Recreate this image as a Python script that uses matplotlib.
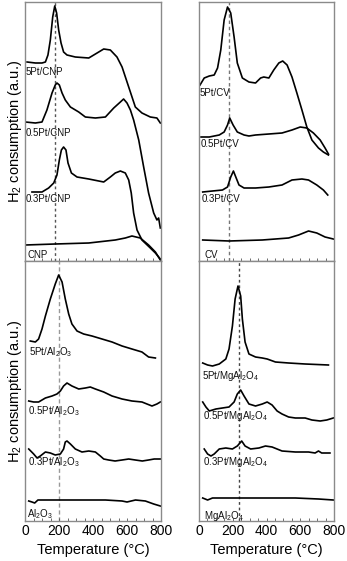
import matplotlib
matplotlib.use("Agg")
import matplotlib.pyplot as plt
from matplotlib.ticker import MultipleLocator

plt.rcParams["font.family"] = ["Liberation Sans", "DejaVu Sans"]
plt.rcParams["mathtext.fontset"] = "custom"
plt.rcParams["mathtext.rm"] = "Liberation Sans"
plt.rcParams["mathtext.it"] = "Liberation Sans:italic"

# %% data (temperature in °C, signal in a.u.)
# --- CNP panel ---
t_5pt_cnp = [12, 61, 100, 120, 135, 149, 163, 175, 186, 198, 212, 227, 247, 296, 375, 424, 463, 502, 541, 571, 610, 649, 688, 737, 776, 796]
s_5pt_cnp = [199, 198, 198, 199, 206, 221, 244, 255, 248, 231, 218, 209, 206, 204, 203, 208, 212, 211, 204, 194, 174, 154, 148, 144, 143, 138]
t_05pt_cnp = [2, 61, 100, 129, 159, 178, 188, 202, 218, 237, 267, 316, 355, 414, 473, 522, 561, 580, 600, 620, 639, 669, 698, 727, 757, 776, 786, 796]
s_05pt_cnp = [139, 138, 139, 151, 168, 176, 178, 176, 168, 161, 154, 149, 144, 143, 144, 153, 159, 162, 158, 151, 141, 121, 94, 68, 48, 41, 43, 33]
t_03pt_cnp = [41, 100, 139, 169, 188, 202, 214, 227, 241, 253, 273, 306, 375, 463, 502, 531, 561, 590, 610, 625, 639, 659, 688, 737, 767, 796]
s_03pt_cnp = [69, 69, 73, 78, 86, 101, 111, 114, 111, 98, 88, 84, 82, 79, 84, 88, 90, 88, 81, 68, 48, 31, 21, 13, 8, 2]
t_cnp = [2, 178, 375, 531, 590, 629, 678, 727, 767, 796]
s_cnp = [16, 17, 18, 21, 23, 25, 23, 16, 9, 1]

# --- CV panel ---
t_5pt_cv = [6, 31, 61, 90, 110, 129, 149, 169, 188, 208, 227, 257, 296, 335, 365, 384, 414, 443, 473, 496, 522, 551, 580, 610, 639, 669, 708, 737, 767]
s_5pt_cv = [176, 183, 185, 186, 193, 211, 241, 254, 248, 224, 198, 183, 179, 178, 183, 184, 183, 191, 198, 200, 196, 184, 168, 151, 134, 121, 113, 109, 106]
t_05pt_cv = [12, 61, 120, 149, 169, 182, 202, 227, 267, 296, 335, 414, 492, 551, 600, 639, 678, 718, 747, 767]
s_05pt_cv = [124, 124, 126, 129, 136, 143, 136, 129, 126, 125, 126, 127, 128, 131, 134, 133, 128, 121, 113, 107]
t_03pt_cv = [22, 80, 139, 169, 188, 204, 218, 237, 267, 335, 414, 492, 551, 610, 649, 698, 737, 763]
s_03pt_cv = [69, 70, 71, 74, 84, 90, 84, 76, 73, 73, 74, 76, 81, 82, 81, 76, 71, 66]
t_cv = [22, 178, 375, 531, 590, 649, 698, 747, 796]
s_cv = [21, 20, 21, 23, 26, 30, 28, 24, 22]

# --- Al2O3 panel ---
t_5pt_al = [31, 61, 80, 100, 120, 149, 178, 198, 218, 237, 257, 276, 306, 345, 394, 453, 512, 571, 629, 688, 727, 767]
s_5pt_al = [180, 179, 182, 192, 205, 222, 237, 246, 239, 222, 207, 197, 190, 187, 185, 182, 179, 175, 172, 169, 164, 163]
t_05pt_al = [22, 51, 80, 120, 159, 188, 208, 227, 247, 276, 316, 355, 384, 414, 463, 512, 571, 629, 688, 747, 776, 796]
s_05pt_al = [120, 119, 119, 123, 125, 127, 130, 135, 138, 135, 132, 133, 134, 132, 129, 125, 122, 120, 119, 115, 117, 119]
t_03pt_al = [22, 51, 71, 90, 120, 149, 178, 208, 227, 237, 247, 267, 296, 335, 375, 414, 443, 463, 492, 530, 571, 610, 649, 690, 727, 760, 796]
s_03pt_al = [72, 67, 63, 65, 69, 68, 66, 67, 72, 79, 80, 77, 72, 69, 70, 69, 65, 62, 61, 60, 61, 62, 61, 60, 61, 62, 62]
t_al = [22, 41, 57, 76, 120, 276, 473, 571, 600, 650, 708, 757, 796]
s_al = [20, 19, 18, 21, 21, 21, 21, 20, 19, 21, 20, 17, 15]

# --- MgAl2O4 panel ---
t_5pt_mg = [22, 51, 80, 120, 159, 178, 198, 214, 231, 247, 257, 273, 296, 335, 375, 404, 453, 531, 629, 767]
s_5pt_mg = [158, 156, 155, 157, 162, 172, 195, 222, 235, 225, 202, 179, 167, 164, 163, 162, 159, 158, 157, 156]
t_05pt_mg = [22, 41, 61, 100, 139, 178, 208, 227, 247, 267, 296, 335, 375, 404, 433, 463, 492, 531, 571, 629, 669, 718, 757, 796]
s_05pt_mg = [119, 114, 110, 112, 113, 114, 119, 127, 131, 125, 117, 115, 117, 119, 116, 110, 107, 104, 103, 103, 101, 100, 101, 103]
t_03pt_mg = [31, 51, 71, 90, 120, 159, 198, 227, 253, 273, 306, 355, 394, 433, 492, 571, 649, 688, 708, 727, 776]
s_03pt_mg = [72, 67, 65, 67, 72, 73, 72, 75, 80, 75, 72, 73, 75, 74, 70, 69, 69, 68, 70, 68, 68]
t_mg = [22, 51, 80, 178, 375, 571, 708, 796]
s_mg = [23, 21, 23, 23, 23, 23, 22, 21]

# curve labels: (text, x, y)
labels_cnp = [("5Pt/CNP", 2, 189), ("0.5Pt/CNP", 2, 128), ("0.3Pt/CNP", 2, 62), ("CNP", 12, 6)]
labels_cv = [("5Pt/CV", 2, 168), ("0.5Pt/CV", 12, 117), ("0.3Pt/CV", 18, 62), ("CV", 31, 6)]
labels_al = [("5Pt/Al$_2$O$_3$", 25, 169), ("0.5Pt/Al$_2$O$_3$", 18, 110),
             ("0.3Pt/Al$_2$O$_3$", 18, 59), ("Al$_2$O$_3$", 12, 7)]
labels_mg = [("5Pt/MgAl$_2$O$_4$", 18, 145), ("0.5Pt/MgAl$_2$O$_4$", 25, 105),
             ("0.3Pt/MgAl$_2$O$_4$", 25, 59), ("MgAl$_2$O$_4$", 31, 5)]

dash_cnp, dash_cv, dash_al, dash_mg = 175, 175, 200, 237

# %% figure
fig = plt.figure(figsize=(3.47, 5.61), dpi=100)
W, H = 347, 561


def make_ax(x0, y0, x1, y1):
    return fig.add_axes([x0 / W, 1 - y1 / H, (x1 - x0) / W, (y1 - y0) / H])


ax_cnp = make_ax(25, 2, 161, 261)
ax_cv = make_ax(199, 2, 334, 261)
ax_al = make_ax(25, 261, 161, 521)
ax_mg = make_ax(199, 261, 334, 521)

panels = [
    (ax_cnp, [(t_5pt_cnp, s_5pt_cnp), (t_05pt_cnp, s_05pt_cnp), (t_03pt_cnp, s_03pt_cnp), (t_cnp, s_cnp)],
     labels_cnp, dash_cnp, "#555555", (2, 2), 259),
    (ax_cv, [(t_5pt_cv, s_5pt_cv), (t_05pt_cv, s_05pt_cv), (t_03pt_cv, s_03pt_cv), (t_cv, s_cv)],
     labels_cv, dash_cv, "#777777", (2.5, 2), 259),
    (ax_al, [(t_5pt_al, s_5pt_al), (t_05pt_al, s_05pt_al), (t_03pt_al, s_03pt_al), (t_al, s_al)],
     labels_al, dash_al, "#999999", (3, 2), 260),
    (ax_mg, [(t_5pt_mg, s_5pt_mg), (t_05pt_mg, s_05pt_mg), (t_03pt_mg, s_03pt_mg), (t_mg, s_mg)],
     labels_mg, dash_mg, "#444444", (2, 2), 260),
]

for ax, curves, labels, dash_x, dcol, dpat, ytop in panels:
    ax.axvline(dash_x, color=dcol, lw=1.0, dashes=dpat, zorder=1)
    for t, s in curves:
        ax.plot(t, s, color="black", lw=1.2, solid_joinstyle="round", zorder=2)
    for txt, x, y in labels:
        ax.text(x, y, txt, fontsize=7, ha="left", va="center", color="#111111")
    ax.set_xlim(0, 800)
    ax.set_ylim(0, ytop)
    ax.set_yticks([])
    for sp in ax.spines.values():
        sp.set_color("#8a8a8a")
        sp.set_linewidth(1.0)
    ax.xaxis.set_major_locator(MultipleLocator(200))
    ax.xaxis.set_minor_locator(MultipleLocator(50))
    ax.tick_params(axis="x", which="both", direction="in", length=2, width=0.6,
                   color="#555555", labelsize=10, pad=2)

for ax in (ax_cnp, ax_cv):
    ax.tick_params(axis="x", labelbottom=False)

for ax in (ax_al, ax_mg):
    ax.set_xlabel("Temperature (°C)", fontsize=10.5, labelpad=4)

for ax in (ax_cnp, ax_al):
    ax.set_ylabel("H$_2$ consumption (a.u.)", fontsize=10.5, labelpad=1)

fig.savefig("out.png", dpi=100)
